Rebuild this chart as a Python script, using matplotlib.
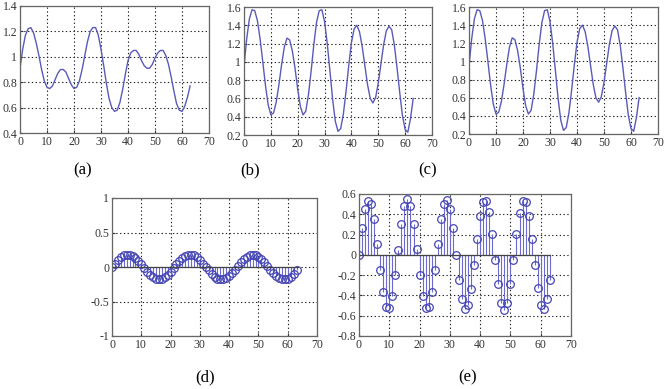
import matplotlib
matplotlib.use("Agg")
import matplotlib.pyplot as plt
from matplotlib.ticker import FuncFormatter

plt.rcParams['font.family'] = ['Liberation Serif', 'DejaVu Serif']

n = list(range(64))

sig_a = [0.91, 1.06, 1.17, 1.22, 1.23, 1.19, 1.11, 1.01, 0.90, 0.81,
         0.76, 0.75, 0.77, 0.82, 0.87, 0.90, 0.90, 0.88, 0.83, 0.78,
         0.75, 0.76, 0.81, 0.90, 1.01, 1.12, 1.20, 1.23, 1.23, 1.17,
         1.06, 0.93, 0.79, 0.67, 0.60, 0.57, 0.58, 0.64, 0.74, 0.86,
         0.97, 1.03, 1.05, 1.05, 1.02, 0.97, 0.93, 0.91, 0.91, 0.94,
         0.99, 1.03, 1.05, 1.05, 1.01, 0.94, 0.84, 0.73, 0.63, 0.58,
         0.57, 0.61, 0.68, 0.77]

sig_b = [0.95, 1.25, 1.47, 1.57, 1.56, 1.45, 1.25, 1.00, 0.74, 0.53,
         0.42, 0.44, 0.56, 0.75, 0.97, 1.16, 1.26, 1.24, 1.12, 0.93,
         0.70, 0.51, 0.42, 0.46, 0.64, 0.90, 1.19, 1.43, 1.56, 1.57,
         1.44, 1.20, 0.90, 0.59, 0.35, 0.24, 0.27, 0.43, 0.68, 0.96,
         1.21, 1.36, 1.40, 1.33, 1.17, 0.96, 0.75, 0.60, 0.55, 0.61,
         0.77, 0.98, 1.19, 1.34, 1.39, 1.35, 1.18, 0.93, 0.66, 0.41,
         0.26, 0.23, 0.38, 0.60]

sig_c = [0.95, 1.25, 1.47, 1.57, 1.56, 1.45, 1.25, 1.00, 0.74, 0.53,
         0.42, 0.44, 0.56, 0.75, 0.97, 1.16, 1.26, 1.24, 1.12, 0.93,
         0.70, 0.51, 0.42, 0.46, 0.64, 0.90, 1.19, 1.43, 1.56, 1.57,
         1.44, 1.20, 0.90, 0.59, 0.35, 0.24, 0.27, 0.43, 0.68, 0.96,
         1.21, 1.36, 1.40, 1.33, 1.17, 0.96, 0.75, 0.60, 0.55, 0.61,
         0.77, 0.98, 1.19, 1.34, 1.39, 1.35, 1.18, 0.93, 0.66, 0.41,
         0.26, 0.23, 0.38, 0.60]

sig_d = [0.00, 0.05, 0.10, 0.14, 0.17, 0.18, 0.18, 0.16, 0.13, 0.08,
         0.04, -0.02, -0.07, -0.11, -0.15, -0.17, -0.18, -0.17, -0.15, -0.11,
         -0.07, -0.02, 0.04, 0.08, 0.13, 0.16, 0.18, 0.18, 0.17, 0.14,
         0.10, 0.05, 0.00, -0.05, -0.10, -0.14, -0.17, -0.18, -0.18, -0.16,
         -0.13, -0.08, -0.04, 0.02, 0.07, 0.11, 0.15, 0.17, 0.18, 0.17,
         0.15, 0.11, 0.07, 0.02, -0.04, -0.08, -0.13, -0.16, -0.18, -0.18,
         -0.17, -0.14, -0.10, -0.05]

sig_e = [0.00, 0.26, 0.45, 0.53, 0.50, 0.35, 0.11, -0.15, -0.37, -0.51,
         -0.52, -0.41, -0.20, 0.05, 0.30, 0.48, 0.55, 0.48, 0.30, 0.06,
         -0.20, -0.41, -0.52, -0.51, -0.37, -0.15, 0.11, 0.35, 0.50, 0.54,
         0.45, 0.26, 0.00, -0.25, -0.44, -0.53, -0.49, -0.34, -0.10, 0.16,
         0.38, 0.52, 0.53, 0.42, 0.21, -0.05, -0.29, -0.47, -0.54, -0.47,
         -0.29, -0.05, 0.21, 0.41, 0.53, 0.52, 0.38, 0.16, -0.10, -0.33,
         -0.49, -0.53, -0.44, -0.25]

xticks = [0, 10, 20, 30, 40, 50, 60, 70]
yticks_a = [0.4, 0.6, 0.8, 1.0, 1.2, 1.4]
yticks_bc = [0.2, 0.4, 0.6, 0.8, 1.0, 1.2, 1.4, 1.6]
yticks_d = [-1, -0.5, 0, 0.5, 1]
yticks_e = [-0.8, -0.6, -0.4, -0.2, 0, 0.2, 0.4, 0.6]
panel_labels = ['(a)', '(b)', '(c)', '(d)', '(e)']

LINE = '#5a5ab8'
STEM = '#6a6ad0'
MARK = '#4646b4'

fig = plt.figure(figsize=(6.65, 3.89), dpi=100)

W, H = 665.0, 389.0
def ax_at(l, t, r, b):
    return fig.add_axes([l / W, 1 - b / H, (r - l) / W, (b - t) / H])

fmt = FuncFormatter(lambda v, p: ('%g' % round(v, 2)))

def style(ax, yt):
    ax.set_xlim(0, 70)
    ax.set_xticks(xticks)
    ax.set_ylim(yt[0], yt[-1])
    ax.set_yticks(yt)
    ax.yaxis.set_major_formatter(fmt)
    ax.xaxis.set_major_formatter(fmt)
    ax.grid(True, linestyle=(0, (1.2, 2.2)), color='#222222', linewidth=0.8)
    ax.tick_params(direction='in', length=2, labelsize=8.5, pad=2,
                   colors='#333333')
    for s in ax.spines.values():
        s.set_color('#666666')
        s.set_linewidth(0.9)

ax_a = ax_at(20, 6, 209, 133)
ax_a.plot(n, sig_a, color=LINE, lw=1.0)
style(ax_a, yticks_a)

ax_b = ax_at(244, 7, 432, 135)
ax_b.plot(n, sig_b, color=LINE, lw=1.0)
style(ax_b, yticks_bc)

ax_c = ax_at(469, 7, 658, 134)
ax_c.plot(n, sig_c, color=LINE, lw=1.0)
style(ax_c, yticks_bc)

ax_d = ax_at(112, 198, 317, 336)
ml, sl, bl = ax_d.stem(n, sig_d, linefmt='-', markerfmt='o', basefmt='-')
plt.setp(sl, color=STEM, linewidth=0.8)
plt.setp(ml, markerfacecolor='none', markeredgecolor=MARK, markersize=5.5, markeredgewidth=0.9)
plt.setp(bl, color='#444444', linewidth=0.9)
style(ax_d, yticks_d)

ax_e = ax_at(359, 194, 571, 336)
ml, sl, bl = ax_e.stem(n, sig_e, linefmt='-', markerfmt='o', basefmt='-')
plt.setp(sl, color=STEM, linewidth=0.8)
plt.setp(ml, markerfacecolor='none', markeredgecolor=MARK, markersize=5.5, markeredgewidth=0.9)
plt.setp(bl, color='#444444', linewidth=0.9)
style(ax_e, yticks_e)

label_pos = [(83, 170), (250, 170), (428, 170), (205, 377), (468, 377)]
for lab, (x, y) in zip(panel_labels, label_pos):
    fig.text(x / W, 1 - y / H, lab, ha='center', va='center', fontsize=12)

fig.savefig('out.png', dpi=100)
